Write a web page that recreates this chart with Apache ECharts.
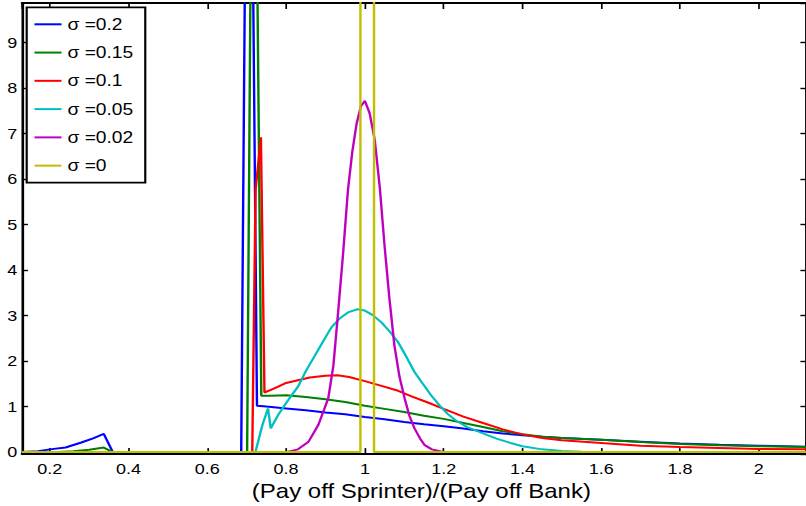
<!DOCTYPE html>
<html>
<head>
<meta charset="utf-8">
<script src="https://cdn.jsdelivr.net/npm/echarts@6/dist/echarts.min.js"></script>
<style>
  html, body { margin: 0; padding: 0; background: #fff; overflow: hidden; }
  /* the figure is laid out 672 px wide and widened to 806 px, like the exported MATLAB figure */
  #chart { width: 672px; height: 506px; transform: scaleX(1.2); transform-origin: 0 0; }
</style>
</head>
<body>
<div id="chart"></div>
<script>
// Density of the payoff ratio for several volatilities; points are [ratio, density].
const seriesNames = ['σ =0.2', 'σ =0.15', 'σ =0.1', 'σ =0.05', 'σ =0.02', 'σ =0'];
const seriesColors = ['#0000ff', '#008000', '#ff0000', '#00bfbf', '#bf00bf', '#bfbf00'];

const sigma020 = [
  [0.1293, 0], [0.17, 0.02], [0.2, 0.06], [0.24, 0.1], [0.28, 0.21], [0.31, 0.3], [0.337, 0.4], [0.36, 0],
  [0.686, 0], [0.705, 21], [0.726, 1.02],
  [0.75, 1.0], [0.8, 0.96], [0.85, 0.92], [0.9, 0.87], [0.95, 0.83], [1.0, 0.77], [1.05, 0.72],
  [1.1, 0.66], [1.15, 0.61], [1.2, 0.57], [1.25, 0.52], [1.3, 0.46], [1.35, 0.41], [1.4, 0.37],
  [1.45, 0.34], [1.5, 0.31], [1.6, 0.27], [1.7, 0.23], [1.8, 0.19], [1.9, 0.16], [2.0, 0.14], [2.121, 0.12]
];

const sigma015 = [
  [0.1293, 0], [0.22, 0], [0.26, 0.02], [0.3, 0.05], [0.337, 0.1], [0.36, 0],
  [0.701, 0], [0.717, 19.3], [0.737, 1.24],
  [0.76, 1.24], [0.8, 1.25], [0.85, 1.21], [0.9, 1.16], [0.95, 1.10], [1.0, 1.02], [1.05, 0.95],
  [1.1, 0.88], [1.15, 0.80], [1.2, 0.73], [1.25, 0.64], [1.3, 0.55], [1.35, 0.46], [1.4, 0.39],
  [1.45, 0.34], [1.5, 0.31], [1.6, 0.27], [1.7, 0.22], [1.8, 0.18], [1.9, 0.15], [2.0, 0.13], [2.121, 0.11]
];

const sigma010 = [
  [0.1293, 0], [0.714, 0], [0.7225, 5.76], [0.736, 6.92], [0.745, 1.31],
  [0.76, 1.36], [0.78, 1.44], [0.8, 1.52], [0.83, 1.58], [0.86, 1.64], [0.9, 1.68], [0.93, 1.69],
  [0.96, 1.65], [1.0, 1.56], [1.04, 1.46], [1.08, 1.36], [1.12, 1.22], [1.16, 1.09], [1.2, 0.95],
  [1.25, 0.78], [1.3, 0.64], [1.35, 0.50], [1.4, 0.39], [1.45, 0.31], [1.5, 0.26], [1.6, 0.20],
  [1.7, 0.14], [1.8, 0.11], [1.9, 0.09], [2.0, 0.07], [2.121, 0.06]
];

const sigma005 = [
  [0.1293, 0], [0.722, 0], [0.74, 0.6], [0.754, 0.96], [0.761, 0.52], [0.78, 0.82], [0.8, 1.08],
  [0.831, 1.45], [0.85, 1.78], [0.873, 2.12], [0.895, 2.45], [0.915, 2.74], [0.935, 2.93],
  [0.957, 3.07], [0.981, 3.14], [1.0, 3.11], [1.02, 3.01], [1.042, 2.85], [1.063, 2.65],
  [1.084, 2.42], [1.105, 2.1], [1.126, 1.76], [1.147, 1.5], [1.168, 1.25], [1.19, 1.02],
  [1.21, 0.84], [1.23, 0.7], [1.26, 0.55], [1.3, 0.41], [1.336, 0.29], [1.37, 0.2], [1.4, 0.13],
  [1.45, 0.06], [1.5, 0.025], [1.55, 0.01], [1.6, 0], [2.121, 0]
];

const sigma002 = [
  [0.1293, 0], [0.8, 0], [0.83, 0.06], [0.857, 0.23], [0.882, 0.6], [0.907, 1.18], [0.92, 1.9],
  [0.932, 3.07], [0.945, 4.4], [0.957, 5.76], [0.968, 6.6], [0.979, 7.22], [0.99, 7.6], [1.0, 7.72],
  [1.012, 7.45], [1.025, 6.86], [1.038, 5.8], [1.05, 4.53], [1.062, 3.4], [1.075, 2.34],
  [1.088, 1.65], [1.101, 1.18], [1.113, 0.8], [1.126, 0.52], [1.14, 0.3], [1.151, 0.16],
  [1.17, 0.06], [1.185, 0.03], [1.2, 0], [2.121, 0]
];

const sigma000 = [
  [0.1293, 0], [0.9886, 0], [0.9886, 40], [1.0232, 40], [1.0232, 0], [2.121, 0]
];

const allSeries = [sigma020, sigma015, sigma010, sigma005, sigma002, sigma000];

// axis ranges
const xRange = [0.1293, 2.121];
const yRange = [-0.044, 9.87];

const FONT = '"Liberation Sans", Arial, Helvetica, sans-serif';

function boxAxis(position, range, showLabels, tickLen, extra) {
  return Object.assign({
    type: 'value',
    position: position,
    min: range[0],
    max: range[1],
    splitNumber: 10,
    axisLine: { show: true, onZero: false, lineStyle: { color: '#000', width: 2.2 } },
    axisTick: { show: true, inside: true, length: tickLen, lineStyle: { color: '#000', width: 1.4 } },
    axisLabel: {
      show: showLabels, color: '#000', fontSize: 15, fontFamily: FONT,
      showMinLabel: false, showMaxLabel: false
    },
    splitLine: { show: false }
  }, extra || {});
}

const chart = echarts.init(document.getElementById('chart'), null, { renderer: 'svg' });

chart.setOption({
  animation: false,
  backgroundColor: '#fff',
  textStyle: { fontFamily: FONT },
  color: seriesColors,
  grid: { left: 18.3, top: 3, width: 657.5, height: 452, containLabel: false },
  legend: {
    orient: 'vertical',
    left: 22.25,
    top: 7.3,
    padding: [9, 10, 9, 5.5],
    itemWidth: 22.5,
    itemHeight: 14,
    itemGap: 12.27,
    backgroundColor: '#fff',
    borderColor: '#000',
    borderWidth: 1.8,
    borderRadius: 0,
    selectedMode: false,
    itemStyle: { opacity: 0 },
    lineStyle: { width: 2 },
    textStyle: { color: '#000', fontSize: 16, lineHeight: 14, fontFamily: FONT },
    data: seriesNames
  },
  xAxis: [
    boxAxis('bottom', xRange, true, 6, {
      axisLabel: { show: true, color: '#000', fontSize: 15, fontFamily: FONT, margin: 7,
                   showMinLabel: false, showMaxLabel: false },
      name: '(Pay off Sprinter)/(Pay off Bank)',
      nameLocation: 'middle',
      nameGap: 19,
      nameTextStyle: { color: '#000', fontSize: 20, fontFamily: FONT, padding: [0, 0, 0, 12] }
    }),
    boxAxis('top', xRange, false, 6)
  ],
  yAxis: [
    boxAxis('left', yRange, true, 5, {
      axisLabel: { show: true, color: '#000', fontSize: 15, fontFamily: FONT, margin: 4,
                   showMinLabel: false, showMaxLabel: false }
    }),
    boxAxis('right', yRange, false, 5)
  ],
  series: allSeries.map((pts, i) => ({
    name: seriesNames[i],
    type: 'line',
    xAxisIndex: 0,
    yAxisIndex: 0,
    data: pts,
    symbol: 'none',
    showSymbol: false,
    clip: true,
    silent: true,
    lineStyle: { color: seriesColors[i], width: 2 },
    itemStyle: { color: seriesColors[i] },
    emphasis: { disabled: true }
  }))
});
</script>
</body>
</html>
